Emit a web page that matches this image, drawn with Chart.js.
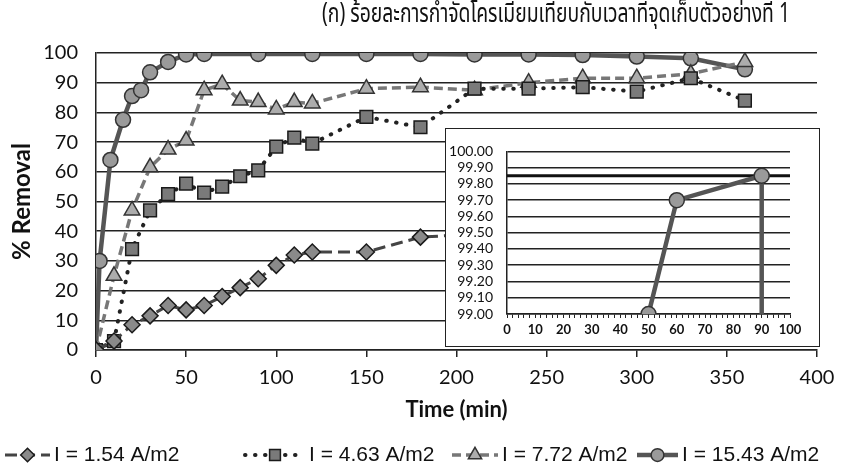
<!DOCTYPE html>
<html>
<head>
<meta charset="utf-8">
<script src="https://cdn.jsdelivr.net/npm/chart.js@4.4.1/dist/chart.umd.min.js"></script>
<style>
html,body{margin:0;padding:0;background:#fff;}
#wrap{position:relative;width:855px;height:473px;overflow:hidden;}
#mainChart{position:absolute;left:0;top:0;}
#insetBox{position:absolute;left:445px;top:128px;width:373px;height:217px;border:1.5px solid #222;background:#fff;}
#insetChart{display:block;}
</style>
</head>
<body>
<div id="wrap">
  <canvas id="mainChart" width="855" height="473"></canvas>
  <div id="insetBox"><canvas id="insetChart" width="373" height="217"></canvas></div>
</div>
<script>
const chartTitle = '(ก) ร้อยละการกำจัดโครเมียมเทียบกับเวลาที่จุดเก็บตัวอย่างที่ 1';
const seriesLabels = ['I = 1.54 A/m2', 'I = 4.63 A/m2', 'I = 7.72 A/m2', 'I = 15.43 A/m2'];

// time (min) and % removal for each current density
const time154 = [0, 10, 20, 30, 40, 50, 60, 70, 80, 90, 100, 110, 120, 150, 180, 210, 240, 270, 300, 330, 360];
const rem154  = [0, 3, 8.5, 11.5, 15, 13.5, 15, 18, 21, 24, 28.5, 32, 33, 33, 38, 39, 42, 45, 47, 49, 50];

const time463 = [0, 10, 20, 30, 40, 50, 60, 70, 80, 90, 100, 110, 120, 150, 180, 210, 240, 270, 300, 330, 360];
const rem463  = [0, 3, 34, 47, 52.5, 56, 53, 55, 58.5, 60.5, 68.5, 71.5, 69.5, 78.5, 75, 88, 88, 88.5, 87, 91.5, 84];

const time772 = [0, 10, 20, 30, 40, 50, 60, 70, 80, 90, 100, 110, 120, 150, 180, 210, 240, 270, 300, 330, 360];
const rem772  = [0, 25, 47, 61.5, 67.5, 70.5, 87.5, 89.5, 84, 83.5, 81, 83.5, 83, 88, 88.5, 87.5, 90, 91.5, 91.5, 93, 97];

const time1543 = [0, 2, 8, 15, 20, 25, 30, 40, 50, 60, 90, 120, 150, 180, 210, 240, 270, 300, 330, 360];
const rem1543  = [0, 30, 64, 77.5, 85.5, 87.5, 93.5, 97, 99.5, 99.7, 99.7, 99.7, 99.7, 99.7, 99.5, 99.5, 99.3, 98.8, 98.2, 94.5];

// inset (zoom of 15.43 A/m2)
const insetTime = [50, 60, 90, 90];
const insetRem  = [99.0, 99.7, 99.85, 99.0];
const insetRefLevel = 99.85;

function pts(xs, ys){ return xs.map((x, i) => ({x: x, y: ys[i]})); }

const styles = [
  {pointStyle:'rectRot', radius:8,   fill:'#8a8a8a', stroke:'#1a1a1a', line:'#444', dash:[12,6], width:3,   cap:'butt'},
  {pointStyle:'rect',    radius:9,   fill:'#7a7a7a', stroke:'#1a1a1a', line:'#222', dash:[0.5,9.5], width:4, cap:'round'},
  {pointStyle:'triangle',radius:9,   fill:'#acacac', stroke:'#333',    line:'#777', dash:[9,5],  width:3.5, cap:'butt'},
  {pointStyle:'circle',  radius:7.5, fill:'#9a9a9a', stroke:'#333',    line:'#555', dash:[],     width:4.5, cap:'butt'}
];
const allData = [pts(time154, rem154), pts(time463, rem463), pts(time772, rem772), pts(time1543, rem1543)];

const datasets = allData.map((d, i) => ({
  label: seriesLabels[i],
  data: d,
  borderColor: styles[i].line,
  borderWidth: styles[i].width,
  borderDash: styles[i].dash,
  borderCapStyle: styles[i].cap,
  pointStyle: styles[i].pointStyle,
  pointRadius: styles[i].radius,
  pointBackgroundColor: styles[i].fill,
  pointBorderColor: styles[i].stroke,
  pointBorderWidth: 1.5,
  tension: 0,
  fill: false
}));

const legendX = [5, 245, 452, 637];
const legendW = [45, 60, 46, 41];

const decor = {
  id: 'decor',
  afterDraw(chart){
    const ctx = chart.ctx;
    ctx.save();
    ctx.fillStyle = '#111';
    // title: the original uses a narrow Thai face, so squeeze it sideways
    ctx.font = '27px "Noto Sans Thai", "Loma", "Garuda", "Noto Sans", sans-serif';
    ctx.textAlign = 'center';
    ctx.textBaseline = 'middle';
    const tw = ctx.measureText(chartTitle).width;
    const sx = Math.min(1, 468 / tw);
    ctx.translate(556, 17);
    ctx.scale(sx, 1);
    ctx.fillText(chartTitle, 0, 0);
    ctx.setTransform(1, 0, 0, 1, 0, 0);

    // legend: line sample with marker, then label
    const ly = 455;
    ctx.font = '21px "Liberation Sans", Arial, sans-serif';
    ctx.textAlign = 'left';
    chart.data.datasets.forEach((ds, i) => {
      const x0 = legendX[i], w = legendW[i];
      ctx.strokeStyle = ds.borderColor;
      ctx.lineWidth = ds.borderWidth;
      ctx.lineCap = ds.borderCapStyle;
      ctx.setLineDash(ds.borderDash);
      ctx.beginPath();
      ctx.moveTo(x0, ly);
      ctx.lineTo(x0 + w, ly);
      ctx.stroke();
      ctx.setLineDash([]);
      ctx.fillStyle = ds.pointBackgroundColor;
      ctx.strokeStyle = ds.pointBorderColor;
      ctx.lineWidth = 1.5;
      Chart.helpers.drawPoint(ctx, {pointStyle: ds.pointStyle, radius: ds.pointRadius * 0.85, rotation: 0, borderWidth: 1.5}, x0 + w / 2, ly);
      ctx.fillStyle = '#111';
      ctx.fillText(ds.label, x0 + w + 4, ly);
    });
    ctx.restore();
  }
};

new Chart(document.getElementById('mainChart').getContext('2d'), {
  type: 'line',
  data: {datasets: datasets},
  options: {
    responsive: false,
    animation: false,
    layout: {padding: {left: 8, top: 53, right: 38, bottom: 50}},
    plugins: {legend: {display: false}, title: {display: false}, tooltip: {enabled: false}},
    scales: {
      x: {
        type: 'linear', min: 0, max: 400,
        ticks: {stepSize: 50, color: '#111', font: {family: 'Lato', size: 20}, padding: 9, maxRotation: 0},
        grid: {drawOnChartArea: false, tickLength: 7, color: '#222', lineWidth: 1.5},
        border: {color: '#222', width: 1.5},
        title: {display: true, text: 'Time (min)', color: '#111', font: {family: 'Lato', size: 22, weight: 'bold'}, padding: 0},
        afterFit(s){ s.height = 73; }
      },
      y: {
        min: 0, max: 100,
        ticks: {stepSize: 10, color: '#111', font: {family: 'Lato', size: 20}, padding: 18},
        grid: {drawTicks: false, color: '#222', lineWidth: 1.5},
        border: {color: '#222', width: 1.5},
        title: {display: true, text: '% Removal', color: '#111', font: {family: 'Lato', size: 24, weight: 'bold'}, padding: 0},
        afterFit(s){ s.width = 88; }
      }
    }
  },
  plugins: [decor]
});

new Chart(document.getElementById('insetChart').getContext('2d'), {
  type: 'line',
  data: {datasets: [
    {
      data: pts(insetTime, insetRem),
      borderColor: styles[3].line, borderWidth: 4.5,
      pointStyle: 'circle', pointRadius: [7.5, 7.5, 7.5, 0],
      pointBackgroundColor: styles[3].fill, pointBorderColor: styles[3].stroke, pointBorderWidth: 1.5,
      tension: 0
    },
    {
      data: [{x: 0, y: insetRefLevel}, {x: 100, y: insetRefLevel}],
      borderColor: '#111', borderWidth: 3, pointRadius: 0
    }
  ]},
  options: {
    responsive: false,
    animation: false,
    layout: {padding: {left: 0, top: 21, right: 29, bottom: 0}},
    plugins: {legend: {display: false}, tooltip: {enabled: false}},
    scales: {
      x: {
        type: 'linear', min: 0, max: 100,
        ticks: {stepSize: 2, autoSkip: false, maxRotation: 0, padding: 4, color: '#111',
          font: {family: 'Lato', size: 13, weight: 'bold'},
          callback: v => (v % 10 === 0 ? v : '')},
        grid: {drawOnChartArea: false, tickLength: 4, color: '#222', lineWidth: 1},
        border: {color: '#222', width: 1.5},
        afterFit(s){ s.height = 32; }
      },
      y: {
        min: 99, max: 100,
        ticks: {stepSize: 0.1, autoSkip: false, color: '#111', font: {family: 'Lato', size: 14}, padding: 14,
          callback: v => Number(v).toFixed(2)},
        grid: {drawTicks: false, color: '#222', lineWidth: 1.5},
        border: {color: '#222', width: 1.5},
        afterFit(s){ s.width = 61; }
      }
    }
  }
});
</script>
</body>
</html>
